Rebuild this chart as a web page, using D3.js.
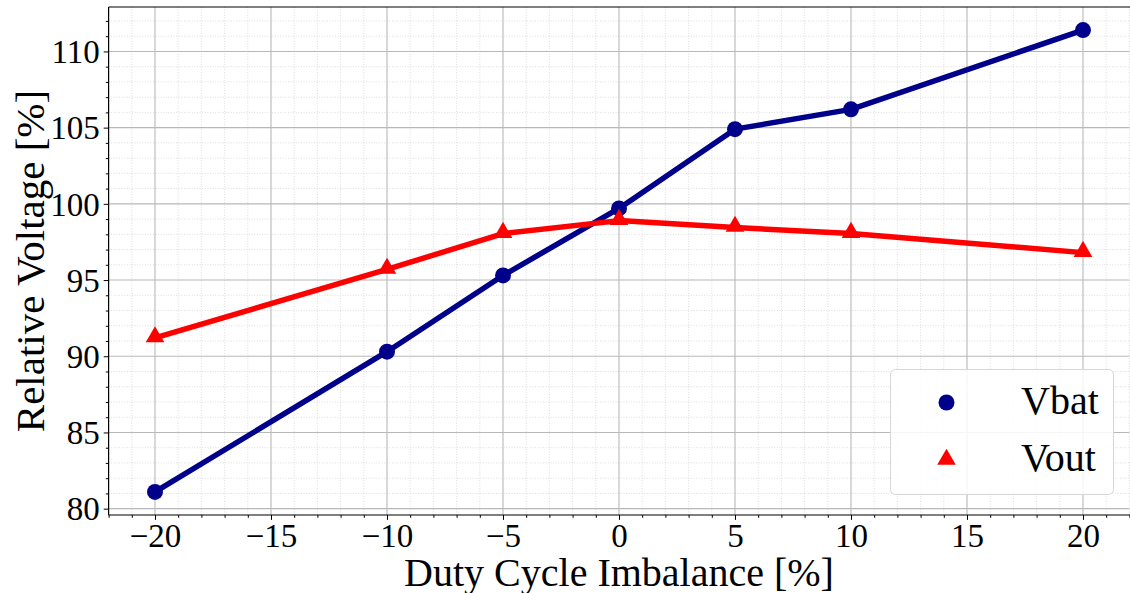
<!DOCTYPE html>
<html>
<head>
<meta charset="utf-8">
<script src="https://cdn.jsdelivr.net/npm/d3@7"></script>
<style>
  html, body { margin: 0; padding: 0; background: #fff; }
  svg { display: block; font-family: "Liberation Serif", "Times New Roman", serif; }
</style>
</head>
<body>
<svg id="chart" width="1130" height="593"></svg>
<script>
// Duty cycle imbalance (%) and relative voltages (%)
const duty = [-20, -10, -5, 0, 5, 10, 20];
const vbat = [81.1, 90.3, 95.3, 99.7, 104.9, 106.2, 111.4];
const vout = [91.2, 95.7, 98.05, 98.9, 98.45, 98.05, 96.8];
const xTicks = [-20, -15, -10, -5, 0, 5, 10, 15, 20];
const yTicks = [80, 85, 90, 95, 100, 105, 110];
const seriesNames = ["Vbat", "Vout"];

const W = 1130, H = 593;
const m = { left: 108.6, right: 0.6, top: 7, bottom: 78 };
const svg = d3.select("#chart");

// Axis limits with a 5% margin around the data
const xMin = d3.min(duty), xMax = d3.max(duty);
const xPad = (xMax - xMin) * 0.05;
const allY = vbat.concat(vout);
const yMin = d3.min(allY), yMax = d3.max(allY);
const yPad = (yMax - yMin) * 0.05;

const x = d3.scaleLinear().domain([xMin - xPad, xMax + xPad]).range([m.left, W - m.right]);
const y = d3.scaleLinear().domain([yMin - yPad, yMax + yPad]).range([H - m.bottom, m.top]);

const xMinor = d3.range(Math.ceil(x.domain()[0]), Math.floor(x.domain()[1]) + 1).filter(v => v % 5 !== 0);
const yMinor = d3.range(Math.ceil(y.domain()[0]), Math.floor(y.domain()[1]) + 1).filter(v => v % 5 !== 0);

const g = svg.append("g");

// minor grid (dotted)
g.append("g").selectAll("line").data(xMinor).join("line")
  .attr("x1", d => x(d)).attr("x2", d => x(d))
  .attr("y1", m.top).attr("y2", H - m.bottom)
  .attr("stroke", "#d4d4d4").attr("stroke-width", 0.8).attr("stroke-dasharray", "1,1.6");
g.append("g").selectAll("line").data(yMinor).join("line")
  .attr("y1", d => y(d)).attr("y2", d => y(d))
  .attr("x1", m.left).attr("x2", W - m.right)
  .attr("stroke", "#d4d4d4").attr("stroke-width", 0.8).attr("stroke-dasharray", "1,1.6");

// major grid
g.append("g").selectAll("line").data(xTicks).join("line")
  .attr("x1", d => x(d)).attr("x2", d => x(d))
  .attr("y1", m.top).attr("y2", H - m.bottom)
  .attr("stroke", "#b8b8b8").attr("stroke-width", 1.1);
g.append("g").selectAll("line").data(yTicks).join("line")
  .attr("y1", d => y(d)).attr("y2", d => y(d))
  .attr("x1", m.left).attr("x2", W - m.right)
  .attr("stroke", "#b8b8b8").attr("stroke-width", 1.1);

// axes
const xAxis = d3.axisBottom(x).tickValues(xTicks).tickSize(4.9).tickPadding(4)
  .tickFormat(d => d < 0 ? "\u2212" + Math.abs(d) : String(d));
const yAxis = d3.axisLeft(y).tickValues(yTicks).tickSize(4.9).tickPadding(4);
const xMinorAxis = d3.axisBottom(x).tickValues(xMinor).tickSize(2.8).tickFormat("");
const yMinorAxis = d3.axisLeft(y).tickValues(yMinor).tickSize(2.8).tickFormat("");

function styleAxis(sel) {
  sel.select(".domain").remove();
  sel.selectAll(".tick line").attr("stroke", "#000").attr("stroke-width", 1);
  sel.selectAll(".tick text").attr("fill", "#000").attr("font-size", 33)
     .attr("font-family", "Liberation Serif, Times New Roman, serif");
}
g.append("g").attr("transform", `translate(0,${H - m.bottom})`).call(xMinorAxis).call(styleAxis);
g.append("g").attr("transform", `translate(${m.left},0)`).call(yMinorAxis).call(styleAxis);
const gx = g.append("g").attr("transform", `translate(0,${H - m.bottom})`).call(xAxis).call(styleAxis);
const gy = g.append("g").attr("transform", `translate(${m.left},0)`).call(yAxis).call(styleAxis);
gy.selectAll(".tick text").attr("dy", "0.34em");

// spines: left, bottom and top
const spine = svg.append("g").attr("stroke", "#000").attr("stroke-width", 1.2);
spine.append("line").attr("x1", m.left).attr("x2", m.left).attr("y1", m.top).attr("y2", H - m.bottom);
spine.append("line").attr("x1", m.left).attr("x2", W).attr("y1", H - m.bottom).attr("y2", H - m.bottom);
spine.append("line").attr("x1", m.left).attr("x2", W).attr("y1", m.top).attr("y2", m.top);

// series
const colors = { Vbat: "#00008b", Vout: "#ff0000" };
const line = d3.line().x(d => x(d[0])).y(d => y(d[1]));
const vbatPts = duty.map((d, i) => [d, vbat[i]]);
const voutPts = duty.map((d, i) => [d, vout[i]]);

svg.append("path").datum(vbatPts).attr("d", line)
  .attr("fill", "none").attr("stroke", colors.Vbat).attr("stroke-width", 5.5).attr("stroke-linejoin", "round");
svg.append("path").datum(voutPts).attr("d", line)
  .attr("fill", "none").attr("stroke", colors.Vout).attr("stroke-width", 5.5).attr("stroke-linejoin", "round");

const circ = d3.symbol().type(d3.symbolCircle).size(200);
const tri = d3.symbol().type(d3.symbolTriangle).size(150);

svg.append("g").selectAll("path").data(vbatPts).join("path")
  .attr("transform", d => `translate(${x(d[0])},${y(d[1])})`)
  .attr("d", circ).attr("fill", colors.Vbat);
svg.append("g").selectAll("path").data(voutPts).join("path")
  .attr("transform", d => `translate(${x(d[0])},${y(d[1]) - 1})`)
  .attr("d", tri).attr("fill", colors.Vout);

// axis titles
svg.append("text")
  .attr("x", (m.left + W - m.right) / 2).attr("y", 586)
  .attr("text-anchor", "middle").attr("font-size", 40).attr("fill", "#000")
  .text("Duty Cycle Imbalance [%]");
svg.append("text")
  .attr("transform", `translate(44,${(m.top + H - m.bottom) / 2}) rotate(-90)`)
  .attr("text-anchor", "middle").attr("font-size", 41).attr("fill", "#000")
  .text("Relative Voltage [%]");

// legend
const lg = svg.append("g");
lg.append("rect")
  .attr("x", 890.5).attr("y", 369.5).attr("width", 223).attr("height", 125).attr("rx", 5)
  .attr("fill", "rgba(255,255,255,0.85)").attr("stroke", "#d6d6d6").attr("stroke-width", 1);
const legendRows = [
  { name: seriesNames[0], sym: circ, color: colors.Vbat, y: 402.5 },
  { name: seriesNames[1], sym: tri, color: colors.Vout, y: 459.5 }
];
legendRows.forEach(r => {
  lg.append("path").attr("transform", `translate(946.5,${r.y})`).attr("d", r.sym).attr("fill", r.color);
  lg.append("text").attr("x", 1021).attr("y", r.y + 11).attr("font-size", 40).attr("fill", "#000").text(r.name);
});
</script>
</body>
</html>
